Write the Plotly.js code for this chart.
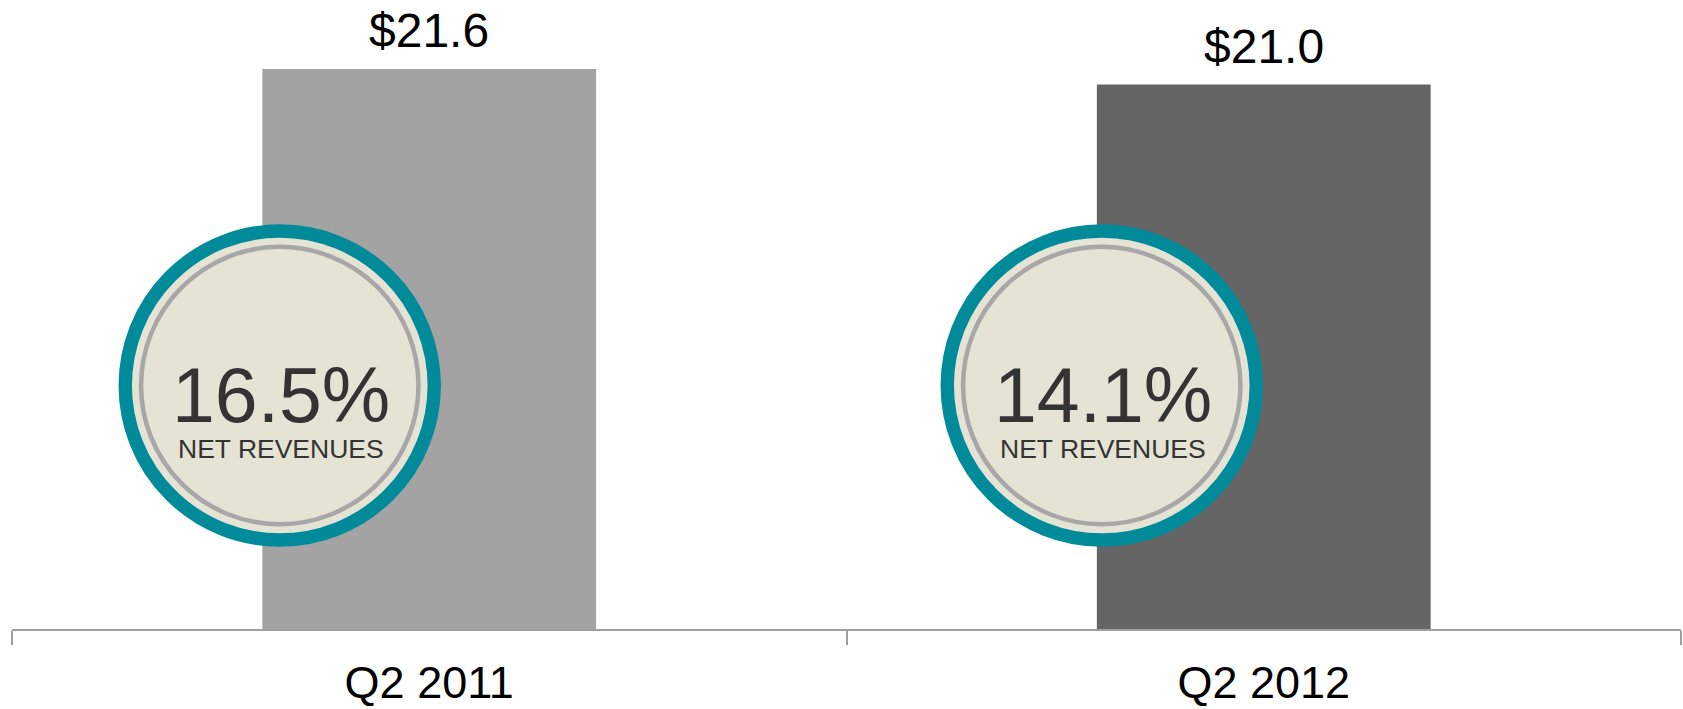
<!DOCTYPE html>
<html>
<head>
<meta charset="utf-8">
<script src="https://cdn.plot.ly/plotly-3.0.1.min.js"></script>
<style>
html,body{margin:0;padding:0;background:#fff;}
#chart{width:1683px;height:709px;}
</style>
</head>
<body>
<div id="chart"></div>
<script>
// ---- data ----
const categories = ['Q2 2011', 'Q2 2012'];
const values = [21.6, 21.0];
const valueLabels = ['$21.6', '$21.0'];
const marginPct = ['16.5%', '14.1%'];
const marginCaption = ['NET REVENUES', 'NET REVENUES'];

// ---- styling / placement ----
const barColors = ['#a4a3a4', '#666566'];
const FONT = 'Liberation Sans, Arial, sans-serif';
const circleCenterY = 9.39;            // data units on y
const circleOffsetPx = [-149.5, -162]; // pixel offset from category centre
const R_TEAL = 154.5, W_TEAL = 13.4;
const R_GRAY = 138.7, W_GRAY = 4.5;

const shapes = [];
const annotations = [];
categories.forEach((c, i) => {
  const dx = circleOffsetPx[i];
  shapes.push({
    type: 'circle', layer: 'above', xref: 'x', yref: 'y',
    xsizemode: 'pixel', ysizemode: 'pixel', xanchor: i, yanchor: circleCenterY,
    x0: dx - R_TEAL, x1: dx + R_TEAL, y0: -R_TEAL, y1: R_TEAL,
    fillcolor: '#e4e3d4', line: {color: '#008a9a', width: W_TEAL}
  });
  shapes.push({
    type: 'circle', layer: 'above', xref: 'x', yref: 'y',
    xsizemode: 'pixel', ysizemode: 'pixel', xanchor: i, yanchor: circleCenterY,
    x0: dx - R_GRAY, x1: dx + R_GRAY, y0: -R_GRAY, y1: R_GRAY,
    fillcolor: 'rgba(0,0,0,0)', line: {color: '#a8a7a8', width: W_GRAY}
  });
  annotations.push({
    xref: 'x', yref: 'y', x: i, y: values[i], text: valueLabels[i],
    showarrow: false, xanchor: 'center', yanchor: 'middle', yshift: 38,
    font: {family: FONT, size: 48, color: '#000000'}
  });
  annotations.push({
    xref: 'x', yref: 'y', x: i, y: circleCenterY, text: marginPct[i],
    showarrow: false, xanchor: 'center', yanchor: 'middle',
    xshift: dx + 1.5, yshift: -9,
    font: {family: FONT, size: 77, color: '#333333'}
  });
  annotations.push({
    xref: 'x', yref: 'y', x: i, y: circleCenterY, text: marginCaption[i],
    showarrow: false, xanchor: 'center', yanchor: 'middle',
    xshift: dx + 1.5, yshift: -63,
    font: {family: FONT, size: 26.5, color: '#333333'}
  });
});

const trace = {
  type: 'bar', x: categories, y: values,
  marker: {color: barColors, line: {width: 0}},
  hoverinfo: 'skip', showlegend: false
};

const layout = {
  width: 1683, height: 709,
  margin: {l: 12, r: 2, t: 0, b: 80},
  paper_bgcolor: '#ffffff', plot_bgcolor: '#ffffff',
  bargap: 0.6,
  showlegend: false,
  font: {family: FONT},
  xaxis: {
    type: 'category', categoryarray: categories, range: [-0.5, 1.5],
    tickson: 'boundaries', ticks: 'outside', ticklen: 14, tickwidth: 2,
    tickcolor: '#a0a0a0', showline: true, linecolor: '#a0a0a0', linewidth: 2,
    showgrid: false, zeroline: false, fixedrange: true,
    tickfont: {family: FONT, size: 45, color: '#000000'},
    ticklabelstandoff: 13
  },
  yaxis: {
    visible: false, range: [0, 24.26], showgrid: false, zeroline: false, fixedrange: true
  },
  shapes: shapes,
  annotations: annotations
};

Plotly.newPlot('chart', [trace], layout, {displayModeBar: false, staticPlot: true});
</script>
</body>
</html>
